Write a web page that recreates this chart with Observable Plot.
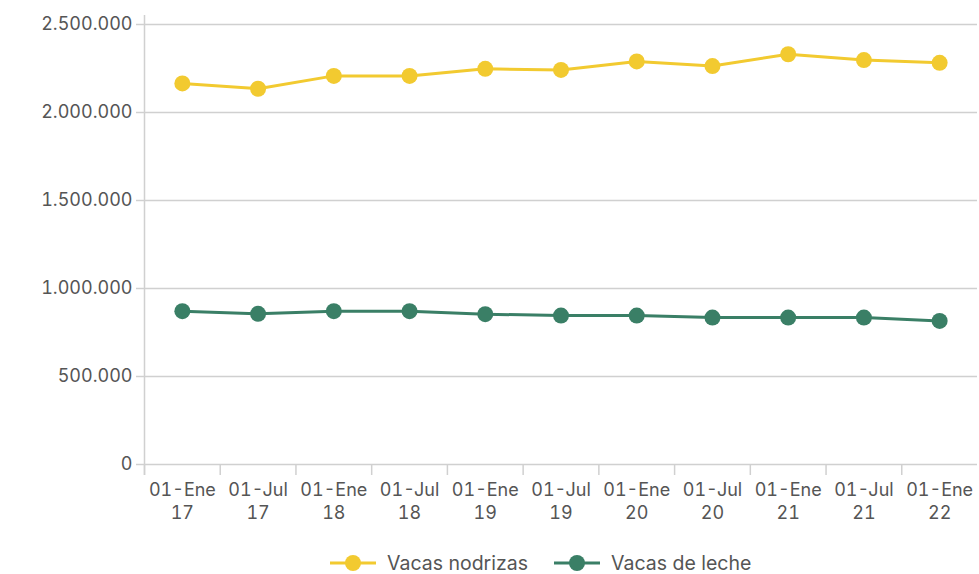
<!DOCTYPE html>
<html>
<head>
<meta charset="utf-8">
<script src="https://cdn.jsdelivr.net/npm/d3@7"></script>
<script src="https://cdn.jsdelivr.net/npm/@observablehq/plot@0.6"></script>
<style>
  html, body { margin: 0; padding: 0; background: white; }
  #chart { width: 979px; height: 530px; }
  .legend { display: flex; align-items: center; height: 44px; margin-top: 11px; padding-left: 330px; font-family: Inter, sans-serif; font-size: 19.5px; color: #555; }
  .legend .item { display: flex; align-items: center; margin-right: 26px; }
  .legend svg { margin-right: 11px; }
</style>
</head>
<body>
<div id="chart"></div>
<script>
const categories = ["01-Ene\n17","01-Jul\n17","01-Ene\n18","01-Jul\n18","01-Ene\n19","01-Jul\n19","01-Ene\n20","01-Jul\n20","01-Ene\n21","01-Jul\n21","01-Ene\n22"];
const nodrizas = [2165000, 2135000, 2208000, 2208000, 2248000, 2242000, 2290000, 2264000, 2331000, 2298000, 2282000];
const leche = [871000, 856000, 871000, 871000, 854000, 846000, 846000, 835000, 835000, 835000, 816000];
const seriesNames = ["Vacas nodrizas", "Vacas de leche"];
const seriesColors = ["#F2CA30", "#3A7F66"];
const yTicks = [0, 500000, 1000000, 1500000, 2000000, 2500000];

const locale = d3.formatLocale({decimal: ",", thousands: ".", grouping: [3], currency: ["", "€"]});
const fmt = locale.format(",");

const data = [];
categories.forEach((c, i) => {
  data.push({i, value: nodrizas[i], series: seriesNames[0]});
  data.push({i, value: leche[i], series: seriesNames[1]});
});
const idx = categories.map((_, i) => i);
const bounds = categories.map((_, i) => i - 0.5);

const chart = Plot.plot({
  width: 979,
  height: 530,
  marginLeft: 144,
  marginRight: 2,
  marginTop: 24,
  marginBottom: 66,
  style: {fontFamily: "Inter, sans-serif", fontSize: "18px", color: "#555", background: "white"},
  x: {domain: [-0.5, categories.length - 0.5], axis: null},
  y: {domain: [0, 2500000], axis: null},
  color: {domain: seriesNames, range: seriesColors},
  marks: [
    Plot.gridY(yTicks, {stroke: "#d0d0d0", strokeOpacity: 1, strokeWidth: 1.5}),
    Plot.ruleX([-0.5], {stroke: "#d0d0d0", strokeWidth: 1.5, insetTop: -9, insetBottom: -11}),
    Plot.axisY(yTicks, {tickSize: 8, tickPadding: 4, tickFormat: fmt, stroke: "#d0d0d0", strokeWidth: 1.5, fill: "#555", fontSize: 18, label: null}),
    Plot.axisX(bounds, {tickSize: 11, tickFormat: () => "", stroke: "#d0d0d0", strokeWidth: 1.5, label: null}),
    Plot.axisX(idx, {tickSize: 0, tickPadding: 14, tickFormat: i => categories[i], fill: "#555", fontSize: 18, lineHeight: 1.33, label: null}),
    Plot.line(data, {x: "i", y: "value", stroke: "series", z: "series", strokeWidth: 3}),
    Plot.dot(data, {x: "i", y: "value", fill: "series", r: 8})
  ]
});
document.getElementById("chart").appendChild(chart);

const legend = document.createElement("div");
legend.className = "legend";
seriesNames.forEach((name, k) => {
  const item = document.createElement("div");
  item.className = "item";
  item.innerHTML = `<svg width="46" height="18"><line x1="0" x2="46" y1="9" y2="9" stroke="${seriesColors[k]}" stroke-width="3"/><circle cx="23" cy="9" r="8" fill="${seriesColors[k]}"/></svg><span>${name}</span>`;
  legend.appendChild(item);
});
document.body.appendChild(legend);
</script>
</body>
</html>
